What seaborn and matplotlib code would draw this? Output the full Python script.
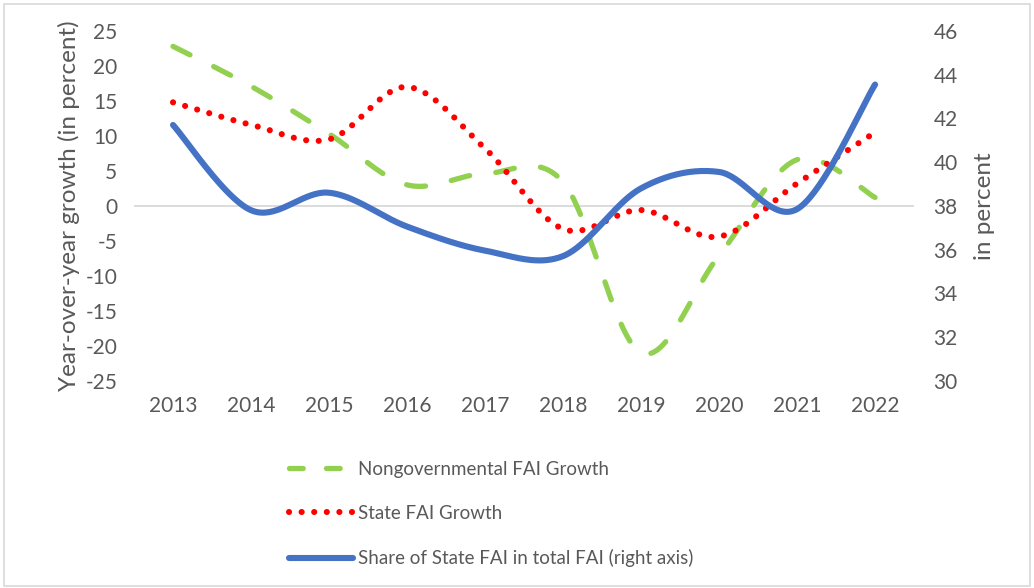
import numpy as np
import pandas as pd
import seaborn as sns
import matplotlib.pyplot as plt
from matplotlib.lines import Line2D
from matplotlib.patches import Rectangle

# data
years = [2013, 2014, 2015, 2016, 2017, 2018, 2019, 2020, 2021, 2022]
nongov_growth = [22.8, 17.1, 10.3, 3.0, 4.6, 3.4, -21.0, -7.1, 6.6, 1.2]
state_growth = [14.8, 11.6, 9.5, 17.0, 8.2, -3.3, -0.6, -4.4, 3.2, 10.5]
state_share = [41.7, 37.8, 38.6, 37.05, 35.95, 35.7, 38.8, 39.55, 37.85, 43.55]

labels = ["Nongovernmental FAI Growth", "State FAI Growth",
          "Share of State FAI in total FAI (right axis)"]
colors = ["#92d050", "#ff0000", "#4472c4"]


def smooth(x, y, n=40):
    """Excel style smoothed line: bezier segments through every point."""
    x = np.asarray(x, float)
    y = np.asarray(y, float)
    px = np.r_[x[0], x, x[-1]]
    py = np.r_[y[0], y, y[-1]]
    t = np.linspace(0, 1, n)[:, None]
    xs, ys = [], []
    for i in range(1, len(px) - 2):
        p0 = np.array([px[i], py[i]])
        p3 = np.array([px[i + 1], py[i + 1]])
        c1 = p0 + (np.array([px[i + 1], py[i + 1]]) - np.array([px[i - 1], py[i - 1]])) / 6
        c2 = p3 - (np.array([px[i + 2], py[i + 2]]) - np.array([px[i], py[i]])) / 6
        pts = ((1 - t) ** 3) * p0 + 3 * ((1 - t) ** 2) * t * c1 + 3 * (1 - t) * t ** 2 * c2 + t ** 3 * p3
        xs.append(pts[:, 0])
        ys.append(pts[:, 1])
    return pd.DataFrame({"x": np.concatenate(xs), "y": np.concatenate(ys)})


sns.set_style("white")
plt.rcParams["font.family"] = ["Lato", "DejaVu Sans"]
plt.rcParams["axes.unicode_minus"] = False
txt = "#595959"

fig = plt.figure(figsize=(10.34, 5.88), dpi=100)
ax = fig.add_axes([0.1296, 0.3526, 0.7544, 0.5947])
ax2 = ax.twinx()

green_ls = (0, (3.6, 5.0))
red_ls = (0, (0.01, 2.05))

g = smooth(years, nongov_growth)
sns.lineplot(data=g, x="x", y="y", ax=ax, color=colors[0], lw=3.8,
             linestyle=green_ls, sort=False, estimator=None, legend=False)
r = smooth(years, state_growth)
sns.lineplot(data=r, x="x", y="y", ax=ax, color=colors[1], lw=4.4,
             linestyle=red_ls, sort=False, estimator=None, legend=False)
b = smooth(years, state_share)
sns.lineplot(data=b, x="x", y="y", ax=ax2, color=colors[2], lw=4.4,
             sort=False, estimator=None, legend=False)
for ln in ax.lines + ax2.lines:
    ln.set_dash_capstyle("round")
    ln.set_solid_capstyle("round")

ax.axhline(0, color="#d9d9d9", lw=1.3, zorder=0)

ax.set_xlim(2012.5, 2022.5)
ax.set_ylim(-25, 25)
ax2.set_ylim(30, 46)
ax.set_xticks(years)
ax.set_xticklabels([str(y) for y in years])
ax.set_yticks(range(-25, 26, 5))
ax2.set_yticks(range(30, 47, 2))

for a in (ax, ax2):
    for s in a.spines.values():
        s.set_visible(False)
    a.tick_params(length=0, labelsize=15, labelcolor=txt)
ax.tick_params(axis="x", pad=11)
ax.tick_params(axis="y", pad=12)
ax2.tick_params(axis="y", pad=14)

ax.set_xlabel("")
ax.set_ylabel("Year-over-year growth (in percent)", fontsize=17.5, color=txt, labelpad=4)
ax2.set_ylabel("in percent", fontsize=17.5, color=txt, labelpad=12)

handles = [
    Line2D([], [], color=colors[0], lw=3.8, linestyle=(0, (2.6, 4.4)), dash_capstyle="round"),
    Line2D([], [], color=colors[1], lw=4.4, linestyle=red_ls, dash_capstyle="round"),
    Line2D([], [], color=colors[2], lw=4.4, solid_capstyle="round"),
]
fig.legend(handles, labels, loc="upper left", bbox_to_anchor=(0.263, 0.245),
           frameon=False, fontsize=13.5, labelcolor=txt, handlelength=3.4,
           handletextpad=0.3, labelspacing=1.45)

fig.patches.append(Rectangle((0.004, 0.003), 0.992, 0.99, transform=fig.transFigure,
                             fill=False, edgecolor="#d9d9d9", lw=1.2))

fig.savefig("out.png", dpi=100)
